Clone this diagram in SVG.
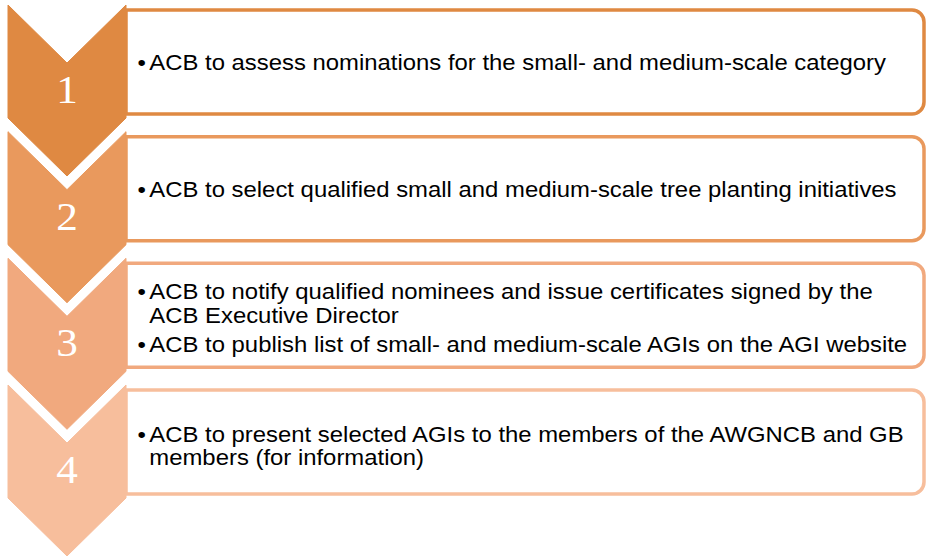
<svg xmlns="http://www.w3.org/2000/svg" width="927" height="556" viewBox="0 0 927 556">
  <style>
    .box { fill: #ffffff; stroke-width: 3.5; }
    .num { font-family: "Liberation Serif", "Times New Roman", serif; font-size: 40px; fill: #ffffff; text-anchor: middle; }
    .item { font-family: "Liberation Sans", Arial, sans-serif; font-size: 22px; fill: #000000; }
    .s1 { fill: #df8942; stroke: #df8942; }
    .s2 { fill: #e9995d; stroke: #e9995d; }
    .s3 { fill: #f1a97e; stroke: #f1a97e; }
    .s4 { fill: #f7be9c; stroke: #f7be9c; }
    .b1 { stroke: #df8942; }
    .b2 { stroke: #e9995d; }
    .b3 { stroke: #f1a97e; }
    .b4 { stroke: #f7be9c; }
  </style>
  <defs>
    <!-- box with square left corners and rounded right corners -->
    <path id="panel" d="M126,5 H912 A12,12 0 0 1 924,17 V97 A12,12 0 0 1 912,109 H126 Z"/>
    <polygon id="chevron" points="8,0 67,58 126,0 126,113 67,171 8,113"/>
  </defs>

  <rect width="927" height="556" fill="#ffffff"/>

  <g id="connectors"></g>

  <!-- step 1 -->
  <g id="step1" transform="translate(0,5)">
    <use href="#panel" class="box b1"/>
    <use href="#chevron" class="s1" stroke="none"/>
    <text class="num" transform="translate(67,98) scale(1.08,1)">1</text>
    <text class="item" transform="translate(149.3,65) scale(1.086,1)"><tspan x="-10.9">•</tspan><tspan x="0">ACB to assess nominations for the small- and medium-scale category</tspan></text>
  </g>

  <!-- step 2 -->
  <g id="step2" transform="translate(0,131.7)">
    <use href="#panel" class="box b2"/>
    <use href="#chevron" class="s2" stroke="none"/>
    <text class="num" transform="translate(67,98) scale(1.08,1)">2</text>
    <text class="item" transform="translate(149.3,65.3) scale(1.086,1)"><tspan x="-10.9">•</tspan><tspan x="0">ACB to select qualified small and medium-scale tree planting initiatives</tspan></text>
  </g>

  <!-- step 3 -->
  <g id="step3" transform="translate(0,258.3)">
    <use href="#panel" class="box b3"/>
    <use href="#chevron" class="s3" stroke="none"/>
    <text class="num" transform="translate(67,98) scale(1.08,1)">3</text>
    <text class="item" transform="translate(149.3,40.7) scale(1.086,1)"><tspan x="-10.9">•</tspan><tspan x="0">ACB to notify qualified nominees and issue certificates signed by the</tspan><tspan x="0" y="24">ACB Executive Director</tspan><tspan x="-10.9" y="53">•</tspan><tspan x="0" y="53">ACB to publish list of small- and medium-scale AGIs on the AGI website</tspan></text>
  </g>

  <!-- step 4 -->
  <g id="step4" transform="translate(0,385)">
    <use href="#panel" class="box b4"/>
    <use href="#chevron" class="s4" stroke="none"/>
    <text class="num" transform="translate(67,98) scale(1.08,1)">4</text>
    <text class="item" transform="translate(149.3,57) scale(1.086,1)"><tspan x="-10.9">•</tspan><tspan x="0">ACB to present selected AGIs to the members of the AWGNCB and GB</tspan><tspan x="0" y="23">members (for information)</tspan></text>
  </g>
</svg>
